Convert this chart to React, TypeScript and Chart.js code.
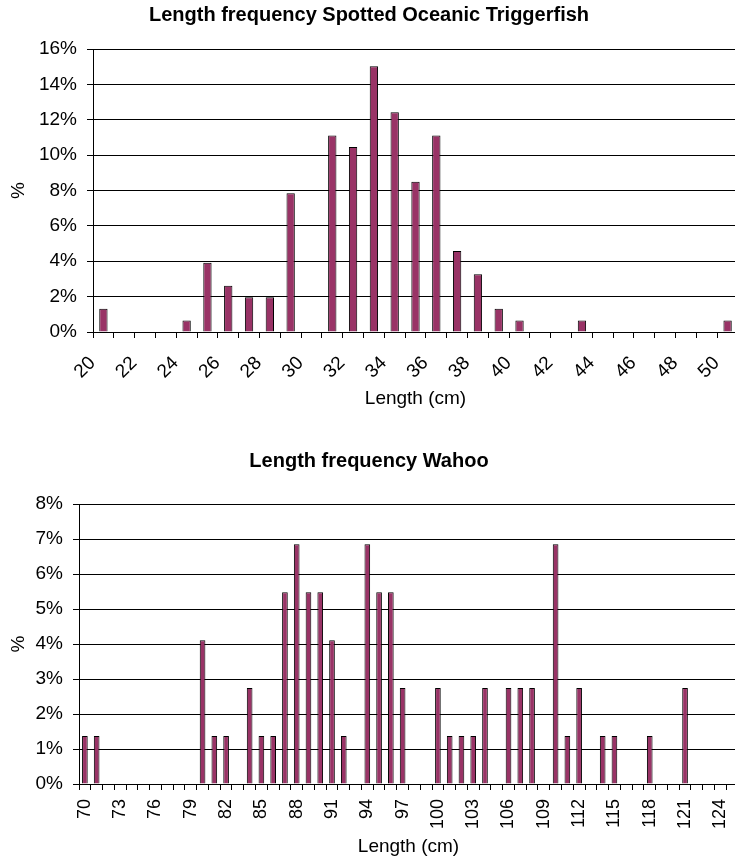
import React, { useEffect, useRef } from 'react';
import { Chart, registerables } from 'chart.js';

Chart.register(...registerables);

// ---------- Data ----------
const triggerLengths = ['20', '21', '22', '23', '24', '25', '26', '27', '28', '29', '30', '31', '32', '33', '34', '35', '36', '37', '38', '39', '40', '41', '42', '43', '44', '45', '46', '47', '48', '49', '50'];
const triggerPct = [1.31, 0, 0, 0, 0.65, 3.92, 2.61, 1.96, 1.96, 7.84, 0, 11.11, 10.46, 15.03, 12.42, 8.5, 11.11, 4.58, 3.27, 1.31, 0.65, 0, 0, 0.65, 0, 0, 0, 0, 0, 0, 0.65];
const triggerTickLabels = ['20', '22', '24', '26', '28', '30', '32', '34', '36', '38', '40', '42', '44', '46', '48', '50'];

const wahooLengths = ['70', '71', '72', '73', '74', '75', '76', '77', '78', '79', '80', '81', '82', '83', '84', '85', '86', '87', '88', '89', '90', '91', '92', '93', '94', '95', '96', '97', '98', '99', '100', '101', '102', '103', '104', '105', '106', '107', '108', '109', '110', '111', '112', '113', '114', '115', '116', '117', '118', '119', '120', '121', '122', '123', '124', '125'];
const wahooPct = [1.37, 1.37, 0, 0, 0, 0, 0, 0, 0, 0, 4.11, 1.37, 1.37, 0, 2.74, 1.37, 1.37, 5.48, 6.85, 5.48, 5.48, 4.11, 1.37, 0, 6.85, 5.48, 5.48, 2.74, 0, 0, 2.74, 1.37, 1.37, 1.37, 2.74, 0, 2.74, 2.74, 2.74, 0, 6.85, 1.37, 2.74, 0, 1.37, 1.37, 0, 0, 1.37, 0, 0, 2.74, 0, 0, 0, 0];
const wahooTickLabels = ['70', '73', '76', '79', '82', '85', '88', '91', '94', '97', '100', '103', '106', '109', '112', '115', '118', '121', '124'];

const FONT = "'Liberation Sans', Arial, Helvetica, sans-serif";
const BAR_COLOR = '#993366';

interface Cfg {
  title: string;
  labels: string[];
  values: number[];
  tickLabels: string[];
  yMax: number;
  yStep: number;
  rotation: number;
  barPct: number;
  titlePad: { top: number; bottom: number };
  yWidth: number;
  xHeight: number;
  xTitlePadBottom: number;
  xTickPad: number;
  xTickOffset: number;
  xTickSize: number;
}

function build(canvas: HTMLCanvasElement, c: Cfg) {
  return new Chart(canvas, {
    type: 'bar',
    data: {
      labels: c.labels,
      datasets: [
        {
          data: c.values,
          backgroundColor: BAR_COLOR,
          borderColor: '#000',
          borderWidth: 1,
          barPercentage: c.barPct,
          categoryPercentage: 1,
        },
      ],
    },
    options: {
      responsive: false,
      animation: false,
      layout: { padding: { left: 0, right: 2, top: 0, bottom: 0 } },
      plugins: {
        legend: { display: false },
        tooltip: { enabled: false },
        title: {
          display: true,
          text: c.title,
          color: '#000',
          font: { family: FONT, size: 20, weight: 'bold' },
          padding: c.titlePad,
        },
      },
      scales: {
        x: {
          grid: { display: true, drawOnChartArea: false, drawTicks: true, tickLength: 6, color: '#000', offset: true },
          border: { display: true, color: '#000', width: 1 },
          ticks: {
            autoSkip: false,
            minRotation: c.rotation,
            maxRotation: c.rotation,
            padding: c.xTickPad,
            labelOffset: c.xTickOffset,
            color: '#000',
            font: { family: FONT, size: c.xTickSize },
            callback: function (this: any, v: any) {
              const l = this.getLabelForValue(v);
              return c.tickLabels.includes(l) ? l : '';
            },
          },
          title: {
            display: true,
            text: 'Length (cm)',
            color: '#000',
            font: { family: FONT, size: 19 },
            padding: { top: 0, bottom: c.xTitlePadBottom },
          },
          afterFit: (s: any) => {
            s.height = c.xHeight;
            s.paddingLeft = 0;
            s.paddingRight = 0;
          },
        },
        y: {
          min: 0,
          max: c.yMax,
          grid: { color: '#000', drawTicks: true, tickLength: 6 },
          border: { display: true, color: '#000', width: 1 },
          ticks: {
            stepSize: c.yStep,
            padding: 10,
            color: '#000',
            font: { family: FONT, size: 19 },
            callback: (v: any) => v + '%',
          },
          title: {
            display: true,
            text: '%',
            color: '#000',
            font: { family: FONT, size: 19 },
            padding: { top: 7, bottom: 0 },
          },
          afterFit: (s: any) => {
            s.width = c.yWidth;
            s.paddingTop = 0;
            s.paddingBottom = 0;
          },
        },
      },
    },
  } as any);
}

export default function App() {
  const topRef = useRef<HTMLCanvasElement>(null);
  const botRef = useRef<HTMLCanvasElement>(null);

  useEffect(() => {
    const a = build(topRef.current!, {
      title: 'Length frequency Spotted Oceanic Triggerfish',
      labels: triggerLengths,
      values: triggerPct,
      tickLabels: triggerTickLabels,
      yMax: 16,
      yStep: 2,
      rotation: 45,
      barPct: 0.4,
      titlePad: { top: 3, bottom: 22 },
      yWidth: 93,
      xHeight: 93,
      xTitlePadBottom: 15,
      xTickPad: 14,
      xTickOffset: -11,
      xTickSize: 19,
    });
    const b = build(botRef.current!, {
      title: 'Length frequency Wahoo',
      labels: wahooLengths,
      values: wahooPct,
      tickLabels: wahooTickLabels,
      yMax: 8,
      yStep: 1,
      rotation: 90,
      barPct: 0.48,
      titlePad: { top: 14, bottom: 31 },
      yWidth: 79,
      xHeight: 79,
      xTitlePadBottom: 5,
      xTickPad: 9,
      xTickOffset: 0,
      xTickSize: 18,
    });
    return () => {
      a.destroy();
      b.destroy();
    };
  }, []);

  return (
    <div style={{ position: 'absolute', left: 0, top: 0, width: 735, height: 863, overflow: 'hidden', background: '#fff' }}>
      <canvas ref={topRef} width={740} height={425} style={{ position: 'absolute', left: 0, top: 0, width: 740, height: 425 }} />
      <canvas ref={botRef} width={740} height={428} style={{ position: 'absolute', left: 0, top: 435, width: 740, height: 428 }} />
    </div>
  );
}
